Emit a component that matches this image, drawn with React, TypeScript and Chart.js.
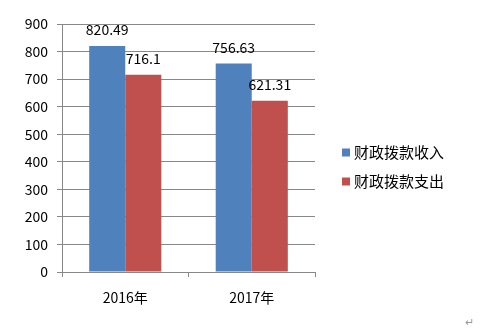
import { useEffect, useRef } from 'react';
import { Chart, registerables } from 'chart.js';

Chart.register(...registerables);

const categories = ['2016年', '2017年'];
const seriesNames = ['财政拨款收入', '财政拨款支出'];
const income = [820.49, 756.63];
const expense = [716.1, 621.31];
const seriesColors = ['#4F81BD', '#C0504D'];
const yMin = 0;
const yMax = 900;
const yStep = 100;

const FONT = '"Noto Sans CJK SC", "Noto Sans", sans-serif';
const GRID = '#888888';

const dataLabelPlugin = {
  id: 'dataLabels',
  afterDatasetsDraw(chart: any) {
    const ctx = chart.ctx;
    ctx.save();
    ctx.font = `14px ${FONT}`;
    ctx.fillStyle = '#000';
    ctx.textAlign = 'center';
    ctx.textBaseline = 'middle';
    chart.data.datasets.forEach((ds: any, di: number) => {
      const meta = chart.getDatasetMeta(di);
      meta.data.forEach((el: any, i: number) => {
        ctx.fillText(String(ds.data[i]), el.x, el.y - 16);
      });
    });
    ctx.restore();
  },
};

const legendPlugin = {
  id: 'sideLegend',
  afterDraw(chart: any) {
    const ctx = chart.ctx;
    const x0 = chart.chartArea.right + 27;
    const cy = chart.height / 2;
    const gap = 29;
    ctx.save();
    ctx.font = `15px ${FONT}`;
    ctx.textBaseline = 'middle';
    ctx.textAlign = 'left';
    chart.data.datasets.forEach((ds: any, i: number) => {
      const y = cy - gap / 2 + i * gap + 1;
      ctx.fillStyle = ds.backgroundColor;
      ctx.fillRect(x0, y - 4, 8, 8);
      ctx.fillStyle = '#000';
      ctx.fillText(ds.label, x0 + 12, y);
    });
    ctx.restore();
  },
};

export default function App() {
  const ref = useRef<HTMLCanvasElement>(null);
  useEffect(() => {
    if (!ref.current) return;
    const chart = new Chart(ref.current, {
      type: 'bar',
      data: {
        labels: categories,
        datasets: [
          { label: seriesNames[0], data: income, backgroundColor: seriesColors[0] },
          { label: seriesNames[1], data: expense, backgroundColor: seriesColors[1] },
        ],
      },
      options: {
        responsive: false,
        animation: false,
        devicePixelRatio: 1,
        layout: { padding: { top: 24, right: 183, bottom: 0, left: 0 } },
        datasets: { bar: { categoryPercentage: 0.57, barPercentage: 1 } },
        plugins: { legend: { display: false }, tooltip: { enabled: false } },
        scales: {
          x: {
            afterFit: (s: any) => { s.height = 60; },
            grid: { drawOnChartArea: false, drawTicks: true, tickLength: 5, color: GRID, offset: true },
            border: { color: GRID },
            ticks: { color: '#000', font: { family: FONT, size: 14 }, padding: 12 },
          },
          y: {
            min: yMin,
            max: yMax,
            afterFit: (s: any) => { s.width = 62; },
            grid: { color: GRID, tickLength: 5 },
            border: { color: GRID },
            ticks: { stepSize: yStep, color: '#000', font: { family: FONT, size: 14 }, padding: 9 },
          },
        },
      },
      plugins: [dataLabelPlugin, legendPlugin],
    });
    return () => chart.destroy();
  }, []);
  return (
    <div style={{ position: 'absolute', left: 0, top: 0, width: 498, height: 332, background: '#fff' }}>
      <canvas ref={ref} width={498} height={332} />
      <div style={{ position: 'absolute', left: 465, top: 313, fontSize: 11, color: '#999', fontFamily: FONT }}>↵</div>
    </div>
  );
}
